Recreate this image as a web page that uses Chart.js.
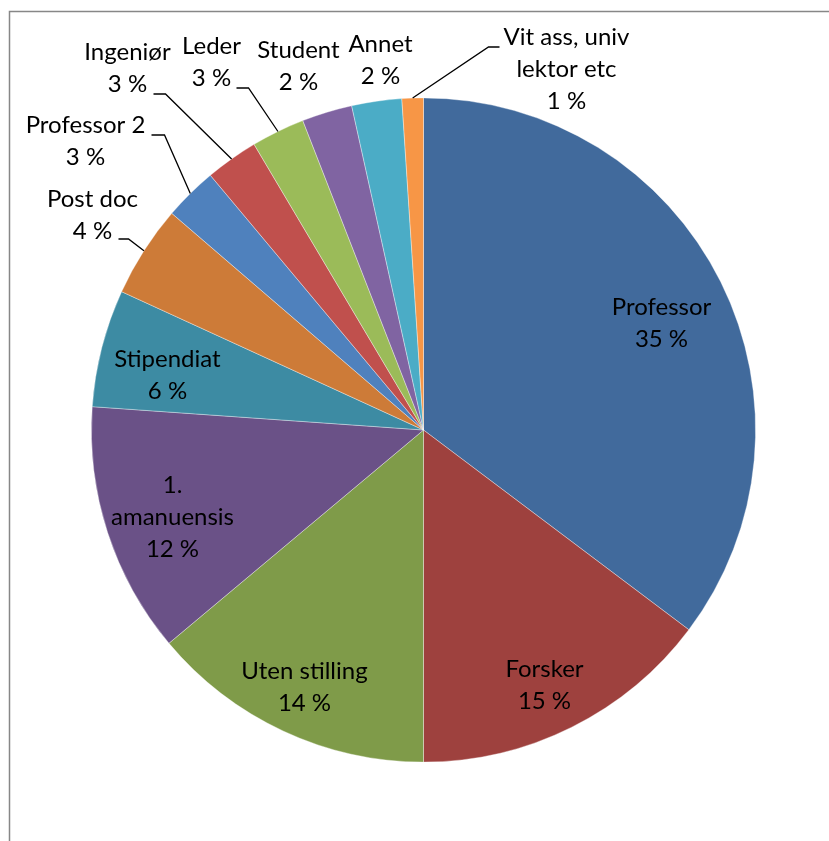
<!DOCTYPE html>
<html>
<head>
<meta charset="utf-8">
<script src="https://cdn.jsdelivr.net/npm/chart.js@4/dist/chart.umd.min.js"></script>
<style>
    html, body { margin: 0; padding: 0; background: #fff; }
    #wrap { width: 829px; height: 841px; position: relative; }
</style>
</head>
<body>
<div id="wrap"><canvas id="pie"></canvas></div>
<script>
// categories, clockwise from 12 o'clock
const categories = [
    'Professor', 'Forsker', 'Uten stilling', '1. amanuensis', 'Stipendiat', 'Post doc',
    'Professor 2', 'Ingeniør', 'Leder', 'Student', 'Annet', 'Vit ass, univ lektor etc'
];
// share in percent
const shares = [35.27, 14.73, 13.9, 12.22, 5.72, 4.47, 2.6, 2.57, 2.6, 2.45, 2.43, 1.04];

// how each label breaks into lines
const labelLines = [
    ['Professor'], ['Forsker'], ['Uten stilling'], ['1.', 'amanuensis'], ['Stipendiat'], ['Post doc'],
    ['Professor 2'], ['Ingeniør'], ['Leder'], ['Student'], ['Annet'], ['Vit ass, univ', 'lektor etc']
];

const colors = [
    '#416A9C', '#9E413E', '#7F9B49', '#6A5187', '#3D8BA3', '#CD7B38',
    '#4F81BD', '#C0504D', '#9BBB59', '#8064A2', '#4BACC6', '#F79646'
];

// label placement: text centre x and first baseline, as offsets from the pie centre
const labelOffset = [
    [238, -115], [121, 247], [-119, 249], [-251, 63], [-256, -63], [-331, -223],
    [-338, -297], [-296, -370], [-212, -376], [-125, -372], [-43, -378], [143, -385]
];
// leader line: [tail dx, tail dy, elbow length] from the pie centre, null = no line
const leaders = [
    null, null, null, null, null, [-305, -191, 10],
    [-272, -295, 13], [-270, -336, 12], [-187, -342, 12], null, null, [76, -383, -11]
];

const LINE_H = 32;

const labelPlugin = {
    id: 'labels',
    beforeDraw(chart) {
        const ctx = chart.ctx;
        ctx.save();
        ctx.strokeStyle = '#878787';
        ctx.lineWidth = 1.5;
        ctx.beginPath();
        ctx.moveTo(9.5, chart.height);
        ctx.lineTo(9.5, 11.5);
        ctx.lineTo(chart.width, 11.5);
        ctx.stroke();
        ctx.restore();
    },
    afterDraw(chart) {
        const ctx = chart.ctx;
        const total = shares.reduce((a, b) => a + b, 0);
        ctx.save();
        ctx.font = '24px Lato';
        ctx.fillStyle = '#000';
        ctx.textAlign = 'center';
        ctx.textBaseline = 'alphabetic';
        chart.getDatasetMeta(0).data.forEach((arc, i) => {
            const p = arc.getProps(['x', 'y', 'startAngle', 'endAngle', 'outerRadius'], true);
            const mid = (p.startAngle + p.endAngle) / 2;
            const lines = labelLines[i].concat([Math.round(shares[i] / total * 100) + ' %']);
            const lx = p.x + labelOffset[i][0];
            const ly = p.y + labelOffset[i][1];
            lines.forEach((t, k) => ctx.fillText(t, lx, ly + k * LINE_H));

            const ld = leaders[i];
            if (ld) {
                const tx = p.x + ld[0], ty = p.y + ld[1];
                ctx.strokeStyle = '#000';
                ctx.lineWidth = 1.3;
                ctx.beginPath();
                ctx.moveTo(tx, ty);
                ctx.lineTo(tx + ld[2], ty);
                ctx.lineTo(p.x + Math.cos(mid) * p.outerRadius, p.y + Math.sin(mid) * p.outerRadius);
                ctx.stroke();
            }
        });
        ctx.restore();
    }
};

new Chart(document.getElementById('pie'), {
    type: 'pie',
    data: {
        labels: categories,
        datasets: [{
            data: shares,
            backgroundColor: colors,
            borderColor: 'rgba(255,255,255,0.45)',
            borderWidth: 0.8
        }]
    },
    options: {
        responsive: true,
        maintainAspectRatio: false,
        animation: false,
        layout: { padding: { left: 91, right: 73, top: 97.5, bottom: 78.5 } },
        plugins: {
            legend: { display: false },
            tooltip: { enabled: false }
        }
    },
    plugins: [labelPlugin]
});
</script>
</body>
</html>
